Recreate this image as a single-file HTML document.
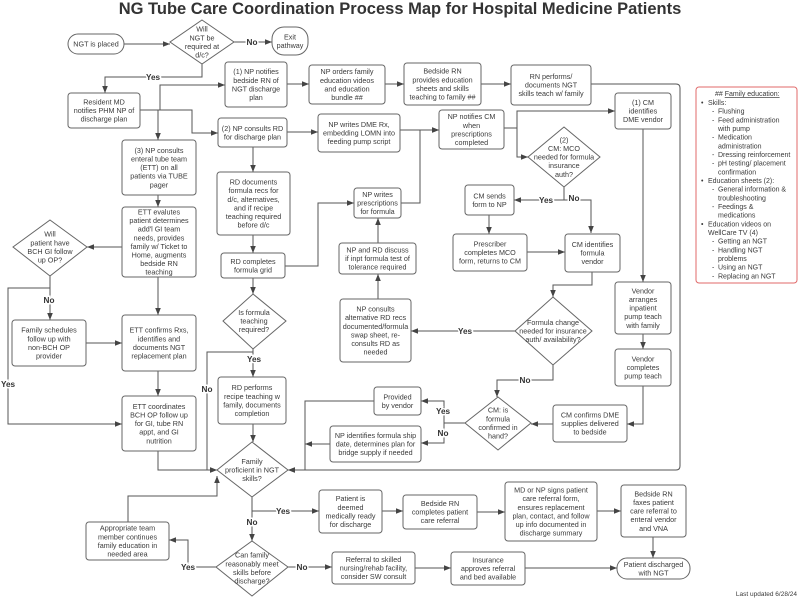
<!DOCTYPE html>
<html><head><meta charset="utf-8"><style>
html,body{margin:0;padding:0;background:#fff;}
svg{display:block;}
text{font-family:"Liberation Sans",sans-serif;font-size:7.2px;fill:#3a3a3a;text-anchor:middle;}
.t{font-size:16.5px;font-weight:bold;fill:#333;}
.l{font-size:8.2px;font-weight:bold;fill:#333;stroke:#fff;stroke-width:3px;paint-order:stroke;}
.e{text-anchor:start;font-size:7px;}
rect.b{fill:#fff;stroke:#666;stroke-width:1;}
polygon{fill:#fff;stroke:#666;stroke-width:1;}
path{fill:none;stroke:#555;stroke-width:1;}
</style></head><body>
<svg width="800" height="599" viewBox="0 0 800 599" xmlns="http://www.w3.org/2000/svg">
<defs><marker id="a" viewBox="0 0 10 10" refX="10" refY="5" markerWidth="7" markerHeight="7" orient="auto-start-reverse" markerUnits="userSpaceOnUse"><path d="M0,1 L10,5 L0,9 z" style="fill:#444;stroke:none"/></marker></defs>
<text class="t" x="400" y="14">NG Tube Care Coordination Process Map for Hospital Medicine Patients</text>

<!-- connectors -->
<g marker-end="url(#a)">
<path d="M124,44 H170"/>
<path d="M234,42 H272"/>
<path d="M202,64 V77 H105 V93"/>
<path d="M140,110 H160 V85 H225"/>
<path d="M160,110 H192 V133 H218"/>
<path d="M158,110 V140"/>
<path d="M287,84 H309"/>
<path d="M385,84 H404"/>
<path d="M481,84 H511"/>
<path d="M591,84 H676 Q680,84 680,88 V466 Q680,470 676,470 H288"/>
<path d="M287,132 H318"/>
<path d="M400,130 H439"/>
<path d="M401,203 H420 V130 H439"/>
<path d="M504,128 H517 V111 H615"/>
<path d="M517,128 V157 H528"/>
<path d="M643,129 V282"/>
<path d="M564,187 V200 H514"/>
<path d="M564,200 H591 V233"/>
<path d="M489,215 V234"/>
<path d="M527,252 H565"/>
<path d="M592,272 V285 H553 V297"/>
<path d="M515,331 H411"/>
<path d="M553,365 V380 H497 V397"/>
<path d="M378,299 V274"/>
<path d="M378,243 V218"/>
<path d="M643,334 V349"/>
<path d="M643,386 V424 H627"/>
<path d="M553,424 H531"/>
<path d="M465,423 H444 V401 H421"/>
<path d="M444,423 V443 H421"/>
<path d="M374,401 H305 V470 H288"/>
<path d="M330,444 H305"/>
<path d="M253,147 V172"/>
<path d="M253,235 V253"/>
<path d="M285,266 H318 V203 H354"/>
<path d="M253,278 V294"/>
<path d="M253,349 V377"/>
<path d="M253,352 H207 V470 H217"/>
<path d="M253,424 V442"/>
<path d="M158,195 V207"/>
<path d="M122,247 H87"/>
<path d="M158,277 V315"/>
<path d="M50,276 V320"/>
<path d="M50,288 H8 V424 H122"/>
<path d="M86,343 H122"/>
<path d="M158,371 V396"/>
<path d="M158,451 V470 H217"/>
<path d="M128,522 V496 H217 V476"/>
<path d="M252,497 V541"/>
<path d="M252,511 H319"/>
<path d="M382,511 H403"/>
<path d="M477,512 H505"/>
<path d="M597,511 H621"/>
<path d="M653,537 V558"/>
<path d="M216,567 H188 V540 H169"/>
<path d="M288,567 H332"/>
<path d="M415,568 H451"/>
<path d="M525,568 H617"/>
</g>

<!-- labels -->
<text class="l" x="252" y="45">No</text>
<text class="l" x="153" y="80">Yes</text>
<text class="l" x="546" y="203">Yes</text>
<text class="l" x="574" y="201">No</text>
<text class="l" x="465" y="334">Yes</text>
<text class="l" x="525" y="383">No</text>
<text class="l" x="443" y="414">Yes</text>
<text class="l" x="443" y="436">No</text>
<text class="l" x="254" y="362">Yes</text>
<text class="l" x="207" y="392">No</text>
<text class="l" x="49" y="303">No</text>
<text class="l" x="8" y="387">Yes</text>
<text class="l" x="252" y="525">No</text>
<text class="l" x="283" y="514">Yes</text>
<text class="l" x="188" y="570">Yes</text>
<text class="l" x="302" y="570">No</text>

<!-- nodes -->
<rect class="b" x="68" y="34" width="56" height="20" rx="10"/><text x="96" y="46.6">NGT is placed</text>
<polygon points="202,20 234,42 202,64 170,42"/><text x="202" y="44.6"><tspan x="202" dy="-12.9">Will</tspan><tspan x="202" dy="8.6">NGT be</tspan><tspan x="202" dy="8.6">required at</tspan><tspan x="202" dy="8.6">d/c?</tspan></text>
<rect class="b" x="272" y="27" width="36" height="28" rx="12"/><text x="290" y="43.6"><tspan x="290" dy="-4.3">Exit</tspan><tspan x="290" dy="8.6">pathway</tspan></text>

<rect class="b" x="68" y="93" width="72" height="35" rx="3"/><text x="104" y="113.1"><tspan x="104" dy="-8.6">Resident MD</tspan><tspan x="104" dy="8.6">notifies PHM NP of</tspan><tspan x="104" dy="8.6">discharge plan</tspan></text>

<rect class="b" x="225" y="62" width="62" height="45" rx="3"/><text x="256" y="87.1"><tspan x="256" dy="-12.9">(1) NP notifies</tspan><tspan x="256" dy="8.6">bedside RN of</tspan><tspan x="256" dy="8.6">NGT discharge</tspan><tspan x="256" dy="8.6">plan</tspan></text>
<rect class="b" x="309" y="65" width="76" height="39" rx="3"/><text x="347" y="87.1"><tspan x="347" dy="-12.9">NP orders family</tspan><tspan x="347" dy="8.6">education videos</tspan><tspan x="347" dy="8.6">and education</tspan><tspan x="347" dy="8.6">bundle ##</tspan></text>
<rect class="b" x="404" y="63" width="77" height="42" rx="3"/><text x="442.5" y="86.6"><tspan x="442.5" dy="-12.9">Bedside RN</tspan><tspan x="442.5" dy="8.6">provides education</tspan><tspan x="442.5" dy="8.6">sheets and skills</tspan><tspan x="442.5" dy="8.6">teaching to family ##</tspan></text>
<rect class="b" x="511" y="65" width="80" height="40" rx="3"/><text x="551" y="87.6"><tspan x="551" dy="-8.6">RN performs/</tspan><tspan x="551" dy="8.6">documents NGT</tspan><tspan x="551" dy="8.6">skills teach w/ family</tspan></text>

<rect class="b" x="218" y="118" width="69" height="29" rx="3"/><text x="252.5" y="135.1"><tspan x="252.5" dy="-4.3">(2) NP consults RD</tspan><tspan x="252.5" dy="8.6">for discharge plan</tspan></text>
<rect class="b" x="318" y="114" width="82" height="38" rx="3"/><text x="359" y="135.6"><tspan x="359" dy="-8.6">NP writes DME Rx,</tspan><tspan x="359" dy="8.6">embedding LOMN into</tspan><tspan x="359" dy="8.6">feeding pump script</tspan></text>
<rect class="b" x="439" y="110" width="65" height="39" rx="3"/><text x="471.5" y="132.1"><tspan x="471.5" dy="-12.9">NP notifies CM</tspan><tspan x="471.5" dy="8.6">when</tspan><tspan x="471.5" dy="8.6">prescriptions</tspan><tspan x="471.5" dy="8.6">completed</tspan></text>
<polygon points="564,127 600,157 564,187 528,157"/><text x="564" y="159.6"><tspan x="564" dy="-17.2">(2)</tspan><tspan x="564" dy="8.6">CM: MCO</tspan><tspan x="564" dy="8.6">needed for formula</tspan><tspan x="564" dy="8.6">insurance</tspan><tspan x="564" dy="8.6">auth?</tspan></text>
<rect class="b" x="615" y="93" width="56" height="36" rx="3"/><text x="643" y="113.6"><tspan x="643" dy="-8.6">(1) CM</tspan><tspan x="643" dy="8.6">identifies</tspan><tspan x="643" dy="8.6">DME vendor</tspan></text>
<rect class="b" x="465" y="185" width="49" height="30" rx="3"/><text x="489.5" y="202.6"><tspan x="489.5" dy="-4.3">CM sends</tspan><tspan x="489.5" dy="8.6">form to NP</tspan></text>
<rect class="b" x="453" y="234" width="74" height="37" rx="3"/><text x="490" y="255.1"><tspan x="490" dy="-8.6">Prescriber</tspan><tspan x="490" dy="8.6">completes MCO</tspan><tspan x="490" dy="8.6">form, returns to CM</tspan></text>
<rect class="b" x="565" y="234" width="55" height="38" rx="3"/><text x="592.5" y="255.6"><tspan x="592.5" dy="-8.6">CM identifies</tspan><tspan x="592.5" dy="8.6">formula</tspan><tspan x="592.5" dy="8.6">vendor</tspan></text>

<polygon points="553,297 592,331 553,365 515,331"/><text x="553" y="333.6"><tspan x="553" dy="-8.6">Formula change</tspan><tspan x="553" dy="8.6">needed for insurance</tspan><tspan x="553" dy="8.6">auth/ availability?</tspan></text>
<rect class="b" x="340" y="299" width="71" height="63" rx="3"/><text x="375.5" y="333.1"><tspan x="375.5" dy="-21.5">NP consults</tspan><tspan x="375.5" dy="8.6">alternative RD recs</tspan><tspan x="375.5" dy="8.6">documented/formula</tspan><tspan x="375.5" dy="8.6">swap sheet, re-</tspan><tspan x="375.5" dy="8.6">consults RD as</tspan><tspan x="375.5" dy="8.6">needed</tspan></text>
<rect class="b" x="339" y="243" width="77" height="31" rx="3"/><text x="377.5" y="261.1"><tspan x="377.5" dy="-8.6">NP and RD discuss</tspan><tspan x="377.5" dy="8.6">if inpt formula test of</tspan><tspan x="377.5" dy="8.6">tolerance required</tspan></text>
<rect class="b" x="354" y="188" width="47" height="30" rx="3"/><text x="377.5" y="205.6"><tspan x="377.5" dy="-8.6">NP writes</tspan><tspan x="377.5" dy="8.6">prescriptions</tspan><tspan x="377.5" dy="8.6">for formula</tspan></text>

<rect class="b" x="615" y="282" width="56" height="52" rx="3"/><text x="643" y="310.6"><tspan x="643" dy="-17.2">Vendor</tspan><tspan x="643" dy="8.6">arranges</tspan><tspan x="643" dy="8.6">inpatient</tspan><tspan x="643" dy="8.6">pump teach</tspan><tspan x="643" dy="8.6">with family</tspan></text>
<rect class="b" x="615" y="349" width="56" height="37" rx="3"/><text x="643" y="370.1"><tspan x="643" dy="-8.6">Vendor</tspan><tspan x="643" dy="8.6">completes</tspan><tspan x="643" dy="8.6">pump teach</tspan></text>
<rect class="b" x="553" y="405" width="74" height="37" rx="3"/><text x="590" y="426.1"><tspan x="590" dy="-8.6">CM confirms DME</tspan><tspan x="590" dy="8.6">supplies delivered</tspan><tspan x="590" dy="8.6">to bedside</tspan></text>
<polygon points="498,397 531,423 498,450 465,423"/><text x="498" y="425.6"><tspan x="498" dy="-12.9">CM: is</tspan><tspan x="498" dy="8.6">formula</tspan><tspan x="498" dy="8.6">confirmed in</tspan><tspan x="498" dy="8.6">hand?</tspan></text>
<rect class="b" x="374" y="387" width="47" height="28" rx="3"/><text x="397.5" y="403.6"><tspan x="397.5" dy="-4.3">Provided</tspan><tspan x="397.5" dy="8.6">by vendor</tspan></text>
<rect class="b" x="330" y="426" width="91" height="36" rx="3"/><text x="375.5" y="446.6"><tspan x="375.5" dy="-8.6">NP identifies formula ship</tspan><tspan x="375.5" dy="8.6">date, determines plan for</tspan><tspan x="375.5" dy="8.6">bridge supply if needed</tspan></text>

<rect class="b" x="217" y="172" width="73" height="63" rx="3"/><text x="253.5" y="206.1"><tspan x="253.5" dy="-21.5">RD documents</tspan><tspan x="253.5" dy="8.6">formula recs for</tspan><tspan x="253.5" dy="8.6">d/c, alternatives,</tspan><tspan x="253.5" dy="8.6">and if recipe</tspan><tspan x="253.5" dy="8.6">teaching required</tspan><tspan x="253.5" dy="8.6">before d/c</tspan></text>
<rect class="b" x="221" y="253" width="64" height="25" rx="3"/><text x="253" y="268.1"><tspan x="253" dy="-4.3">RD completes</tspan><tspan x="253" dy="8.6">formula grid</tspan></text>
<polygon points="253,294 286,321 253,349 223,321"/><text x="254" y="323.6"><tspan x="254" dy="-8.6">Is formula</tspan><tspan x="254" dy="8.6">teaching</tspan><tspan x="254" dy="8.6">required?</tspan></text>
<rect class="b" x="218" y="377" width="68" height="47" rx="3"/><text x="252" y="403.1"><tspan x="252" dy="-12.9">RD performs</tspan><tspan x="252" dy="8.6">recipe teaching w</tspan><tspan x="252" dy="8.6">family, documents</tspan><tspan x="252" dy="8.6">completion</tspan></text>
<polygon points="252,442 288,470 252,497 217,470"/><text x="252" y="472.6"><tspan x="252" dy="-8.6">Family</tspan><tspan x="252" dy="8.6">proficient in NGT</tspan><tspan x="252" dy="8.6">skills?</tspan></text>

<rect class="b" x="122" y="140" width="74" height="55" rx="3"/><text x="159" y="170.1"><tspan x="159" dy="-17.2">(3) NP consults</tspan><tspan x="159" dy="8.6">enteral tube team</tspan><tspan x="159" dy="8.6">(ETT) on all</tspan><tspan x="159" dy="8.6">patients via TUBE</tspan><tspan x="159" dy="8.6">pager</tspan></text>
<rect class="b" x="122" y="207" width="74" height="70" rx="3"/><text x="159" y="244.6"><tspan x="159" dy="-30.1">ETT evalutes</tspan><tspan x="159" dy="8.6">patient determines</tspan><tspan x="159" dy="8.6">add'l GI team</tspan><tspan x="159" dy="8.6">needs, provides</tspan><tspan x="159" dy="8.6">family w/ Ticket to</tspan><tspan x="159" dy="8.6">Home, augments</tspan><tspan x="159" dy="8.6">bedside RN</tspan><tspan x="159" dy="8.6">teaching</tspan></text>
<polygon points="50,220 87,247 50,276 13,247"/><text x="50" y="249.6"><tspan x="50" dy="-12.9">Will</tspan><tspan x="50" dy="8.6">patient have</tspan><tspan x="50" dy="8.6">BCH GI follow</tspan><tspan x="50" dy="8.6">up OP?</tspan></text>
<rect class="b" x="12" y="320" width="74" height="46" rx="3"/><text x="49" y="345.6"><tspan x="49" dy="-12.9">Family schedules</tspan><tspan x="49" dy="8.6">follow up with</tspan><tspan x="49" dy="8.6">non-BCH OP</tspan><tspan x="49" dy="8.6">provider</tspan></text>
<rect class="b" x="122" y="315" width="74" height="56" rx="3"/><text x="159" y="345.6"><tspan x="159" dy="-12.9">ETT confirms Rxs,</tspan><tspan x="159" dy="8.6">identifies and</tspan><tspan x="159" dy="8.6">documents NGT</tspan><tspan x="159" dy="8.6">replacement plan</tspan></text>
<rect class="b" x="122" y="396" width="74" height="55" rx="3"/><text x="159" y="426.1"><tspan x="159" dy="-17.2">ETT coordinates</tspan><tspan x="159" dy="8.6">BCH OP follow up</tspan><tspan x="159" dy="8.6">for GI, tube RN</tspan><tspan x="159" dy="8.6">appt, and GI</tspan><tspan x="159" dy="8.6">nutrition</tspan></text>

<rect class="b" x="86" y="522" width="83" height="38" rx="3"/><text x="127.5" y="543.6"><tspan x="127.5" dy="-12.9">Appropriate team</tspan><tspan x="127.5" dy="8.6">member continues</tspan><tspan x="127.5" dy="8.6">family education in</tspan><tspan x="127.5" dy="8.6">needed area</tspan></text>
<rect class="b" x="319" y="490" width="63" height="43" rx="3"/><text x="350.5" y="514.1"><tspan x="350.5" dy="-12.9">Patient is</tspan><tspan x="350.5" dy="8.6">deemed</tspan><tspan x="350.5" dy="8.6">medically ready</tspan><tspan x="350.5" dy="8.6">for discharge</tspan></text>
<rect class="b" x="403" y="495" width="74" height="34" rx="3"/><text x="440" y="514.6"><tspan x="440" dy="-8.6">Bedside RN</tspan><tspan x="440" dy="8.6">completes patient</tspan><tspan x="440" dy="8.6">care referral</tspan></text>
<rect class="b" x="505" y="482" width="92" height="59" rx="3"/><text x="551" y="514.1"><tspan x="551" dy="-21.5">MD or NP signs patient</tspan><tspan x="551" dy="8.6">care referral form,</tspan><tspan x="551" dy="8.6">ensures replacement</tspan><tspan x="551" dy="8.6">plan, contact, and follow</tspan><tspan x="551" dy="8.6">up info documented in</tspan><tspan x="551" dy="8.6">discharge summary</tspan></text>
<rect class="b" x="621" y="485" width="65" height="52" rx="3"/><text x="653.5" y="513.6"><tspan x="653.5" dy="-17.2">Bedside RN</tspan><tspan x="653.5" dy="8.6">faxes patient</tspan><tspan x="653.5" dy="8.6">care referral to</tspan><tspan x="653.5" dy="8.6">enteral vendor</tspan><tspan x="653.5" dy="8.6">and VNA</tspan></text>
<polygon points="252,541 288,567 252,596 216,567"/><text x="252" y="570.6"><tspan x="252" dy="-12.9">Can family</tspan><tspan x="252" dy="8.6">reasonably meet</tspan><tspan x="252" dy="8.6">skills before</tspan><tspan x="252" dy="8.6">discharge?</tspan></text>
<rect class="b" x="332" y="552" width="83" height="32" rx="3"/><text x="373.5" y="570.6"><tspan x="373.5" dy="-8.6">Referral to skilled</tspan><tspan x="373.5" dy="8.6">nursing/rehab facility,</tspan><tspan x="373.5" dy="8.6">consider SW consult</tspan></text>
<rect class="b" x="451" y="552" width="74" height="33" rx="3"/><text x="488" y="571.1"><tspan x="488" dy="-8.6">Insurance</tspan><tspan x="488" dy="8.6">approves referral</tspan><tspan x="488" dy="8.6">and bed available</tspan></text>
<rect class="b" x="617" y="558" width="73" height="21" rx="10"/><text x="653.5" y="571.1"><tspan x="653.5" dy="-4.3">Patient discharged</tspan><tspan x="653.5" dy="8.6">with NGT</tspan></text>

<!-- family education -->
<rect x="696" y="87" width="101" height="196" rx="3" style="fill:#fff;stroke:#e06a6a;stroke-width:1"/>
<text class="e" x="715" y="96">## <tspan text-decoration="underline">Family education:</tspan></text>
<text class="e" x="701" y="105">•</text><text class="e" x="708" y="105">Skills:</text>
<g>
<text class="e" x="712" y="113.7">-</text><text class="e" x="718" y="113.7">Flushing</text>
<text class="e" x="712" y="122.4">-</text><text class="e" x="718" y="122.4">Feed administration</text>
<text class="e" x="718" y="131">with pump</text>
<text class="e" x="712" y="139.7">-</text><text class="e" x="718" y="139.7">Medication</text>
<text class="e" x="718" y="148.4">administration</text>
<text class="e" x="712" y="157">-</text><text class="e" x="718" y="157">Dressing reinforcement</text>
<text class="e" x="712" y="165.7">-</text><text class="e" x="718" y="165.7">pH testing/ placement</text>
<text class="e" x="718" y="174.4">confirmation</text>
<text class="e" x="701" y="183">•</text><text class="e" x="708" y="183">Education sheets (2):</text>
<text class="e" x="712" y="191.7">-</text><text class="e" x="718" y="191.7">General information &amp;</text>
<text class="e" x="718" y="200.4">troubleshooting</text>
<text class="e" x="712" y="209">-</text><text class="e" x="718" y="209">Feedings &amp;</text>
<text class="e" x="718" y="217.7">medications</text>
<text class="e" x="701" y="226.4">•</text><text class="e" x="708" y="226.4">Education videos on</text>
<text class="e" x="708" y="235">WellCare TV (4)</text>
<text class="e" x="712" y="243.7">-</text><text class="e" x="718" y="243.7">Getting an NGT</text>
<text class="e" x="712" y="252.4">-</text><text class="e" x="718" y="252.4">Handling NGT</text>
<text class="e" x="718" y="261">problems</text>
<text class="e" x="712" y="269.7">-</text><text class="e" x="718" y="269.7">Using an NGT</text>
<text class="e" x="712" y="278.4">-</text><text class="e" x="718" y="278.4">Replacing an NGT</text>
</g>
<text x="797" y="596" style="text-anchor:end;font-size:6.5px">Last updated 6/28/24</text>
</svg>
</body></html>
